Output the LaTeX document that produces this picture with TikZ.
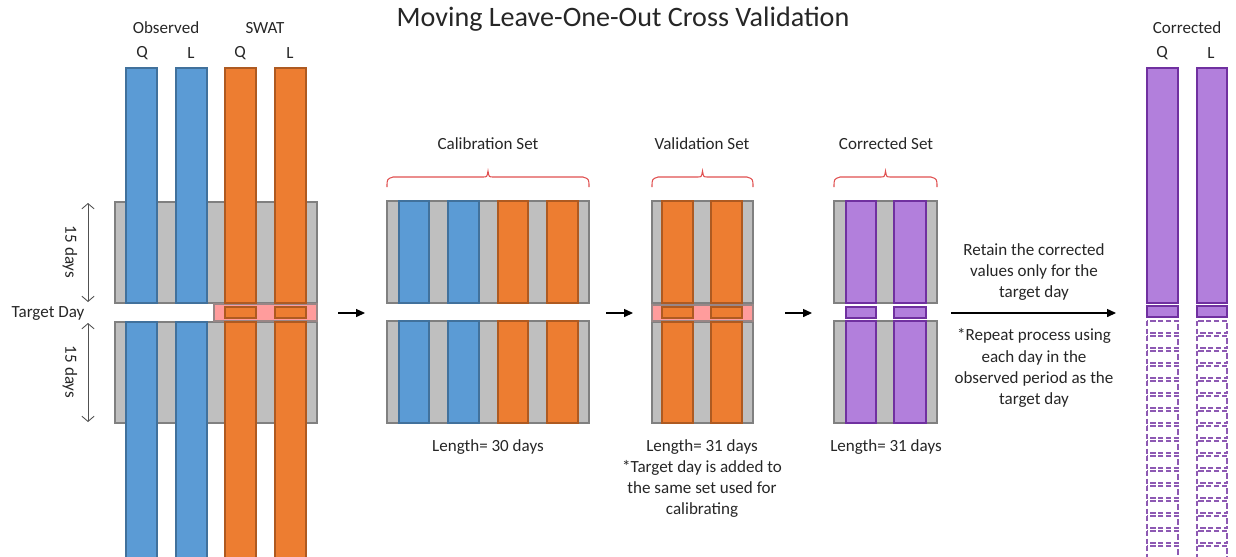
\documentclass[tikz,border=0pt]{standalone}
\usepackage{fontspec}
\setmainfont{Carlito}
\usetikzlibrary{arrows.meta}

\definecolor{boxgray}{HTML}{BFBFBF}
\definecolor{boxedge}{HTML}{808080}
\definecolor{qblue}{HTML}{5B9BD5}
\definecolor{qblueedge}{HTML}{41719C}
\definecolor{sorange}{HTML}{ED7D31}
\definecolor{sorangeedge}{HTML}{AE5A21}
\definecolor{cpurple}{HTML}{B27FDC}
\definecolor{cpurpleedge}{HTML}{7030A0}
\definecolor{tpink}{HTML}{FF9C9C}
\definecolor{bracered}{HTML}{E05050}
\definecolor{txt}{HTML}{262626}

% draws a red brace over the span x1..x2
\newcommand\setbrace[2]{%
  \pgfmathsetmacro\bmid{(#1+#2)/2}%
  \draw[bracestyle] (#1,187) .. controls (#1,179) .. ({#1+6},177)
    -- ({\bmid-5},177) .. controls ({\bmid-1},177) .. (\bmid,171)
    .. controls ({\bmid+1},177) .. ({\bmid+5},177)
    -- ({#2-6},177) .. controls (#2,179) .. (#2,187);}

\begin{document}
\begin{tikzpicture}[x=0.02cm,y=-0.02cm,
  graybox/.style={fill=boxgray,draw=boxedge,line width=0.8pt},
  bluebar/.style={fill=qblue,draw=qblueedge,line width=0.8pt},
  orangebar/.style={fill=sorange,draw=sorangeedge,line width=0.8pt},
  purplebar/.style={fill=cpurple,draw=cpurpleedge,line width=0.8pt},
  pinkstrip/.style={fill=tpink,draw=boxedge!80!tpink,line width=0.8pt},
  slot/.style={draw=cpurpleedge!80!white,line width=0.7pt,dash pattern=on 3pt off 1.4pt},
  bracestyle/.style={draw=bracered,line width=0.6pt},
  lbl/.style={font=\fontsize{9.7}{12}\selectfont,text=txt,align=center,inner sep=0pt},
  flow/.style={draw=black,line width=0.6pt,-{Triangle[length=5pt,width=4.5pt]}},
  span/.style={draw=txt!80,line width=0.5pt,{Straight Barb[length=3pt,width=7pt]}-{Straight Barb[length=3pt,width=7pt]}}
]
\useasboundingbox (0,0) rectangle (1236,556);
\clip (0,0) rectangle (1236,556);

% ---------- title ----------
\node[lbl,font=\fontsize{16}{18}\selectfont] (title) at (623,19) {Moving Leave-One-Out Cross Validation};

% ---------- observed and simulated series ----------
\node[lbl] (hobs) at (166,28) {Observed};
\node[lbl] (hswat) at (265,28) {SWAT};
\node[lbl] (q1) at (142,53) {Q};
\node[lbl] (l1) at (191,53) {L};
\node[lbl] (q2) at (240,53) {Q};
\node[lbl] (l2) at (290,53) {L};

\draw[graybox] (115,202) rectangle (317,303);
\draw[graybox] (115,322) rectangle (317,423);
\draw[pinkstrip] (214,304) rectangle (317,321);

\foreach \xa/\xb in {126/157,176/207}{
  \draw[bluebar] (\xa,68) rectangle (\xb,303);
  \draw[bluebar] (\xa,322) rectangle (\xb,560);}
\foreach \xa/\xb in {225/256,275/306}{
  \draw[orangebar] (\xa,68) rectangle (\xb,303);
  \draw[orangebar] (\xa,307) rectangle (\xb,318);
  \draw[orangebar] (\xa,322) rectangle (\xb,560);}

\coordinate (s1a) at (88,203);
\coordinate (s1b) at (88,302);
\coordinate (s2a) at (88,323);
\coordinate (s2b) at (88,422);
\draw[span] (s1a) -- (s1b);
\draw[span] (s2a) -- (s2b);
\node[lbl,rotate=-90] (d1) at (70,252) {15 days};
\node[lbl,rotate=-90] (d2) at (70,372) {15 days};
\node[lbl] (tday) at (48,313) {Target Day};

% ---------- calibration set ----------
\node[lbl] (hcal) at (488,144) {Calibration Set};
\setbrace{387}{589}
\draw[graybox] (387,201) rectangle (589,303);
\draw[graybox] (387,321) rectangle (589,423);
\foreach \xa/\xb in {399/429,448/479}{
  \draw[bluebar] (\xa,201) rectangle (\xb,303);
  \draw[bluebar] (\xa,321) rectangle (\xb,423);}
\foreach \xa/\xb in {498/528,547/578}{
  \draw[orangebar] (\xa,201) rectangle (\xb,303);
  \draw[orangebar] (\xa,321) rectangle (\xb,423);}
\node[lbl] (lcal) at (488,447) {Length= 30 days};

% ---------- validation set ----------
\node[lbl] (hval) at (702,144) {Validation Set};
\setbrace{652}{753}
\draw[graybox] (652,201) rectangle (753,303);
\draw[graybox] (652,322) rectangle (753,423);
\draw[pinkstrip] (652,305) rectangle (753,321);
\foreach \xa/\xb in {662/693,711/742}{
  \draw[orangebar] (\xa,201) rectangle (\xb,303);
  \draw[orangebar] (\xa,307) rectangle (\xb,318);
  \draw[orangebar] (\xa,322) rectangle (\xb,423);}
\node[lbl,anchor=north] (lval) at (702,439) {Length= 31 days\\*Target day is added to\\the same set used for\\calibrating};

% ---------- corrected set ----------
\node[lbl] (hcor) at (886,144) {Corrected Set};
\setbrace{834}{937}
\draw[graybox] (834,201) rectangle (937,303);
\draw[graybox] (834,321) rectangle (937,423);
\foreach \xa/\xb in {846/876,894/926}{
  \draw[purplebar] (\xa,201) rectangle (\xb,303);
  \draw[purplebar] (\xa,307) rectangle (\xb,318);
  \draw[purplebar] (\xa,321) rectangle (\xb,423);}
\node[lbl] (lcor) at (886,447) {Length= 31 days};

% ---------- flow arrows ----------
\coordinate (a1) at (338,313); \coordinate (a1e) at (365,313);
\coordinate (a2) at (606,313); \coordinate (a2e) at (633,313);
\coordinate (a3) at (785,313); \coordinate (a3e) at (812,313);
\coordinate (a4) at (951,313); \coordinate (a4e) at (1116,313);
\draw[flow] (a1) -- (a1e);
\draw[flow] (a2) -- (a2e);
\draw[flow] (a3) -- (a3e);
\draw[flow] (a4) -- (a4e);
\node[lbl] (retain) at (1034,272) {Retain the corrected\\values only for the\\target day};
\node[lbl] (repeat) at (1034,368) {*Repeat process using\\each day in the\\observed period as the\\target day};

% ---------- corrected series ----------
\node[lbl] (hcorr) at (1187,28) {Corrected};
\node[lbl] (q3) at (1162,53) {Q};
\node[lbl] (l3) at (1211,53) {L};
\foreach \xa/\xb in {1147/1178,1197/1227}{
  \draw[purplebar] (\xa,68) rectangle (\xb,303);
  \draw[purplebar] (\xa,306) rectangle (\xb,317);
  \foreach \k in {0,...,15}{
    \draw[slot] (\xa,{321+15*\k}) rectangle (\xb,{333+15*\k});}}
\end{tikzpicture}
\end{document}
